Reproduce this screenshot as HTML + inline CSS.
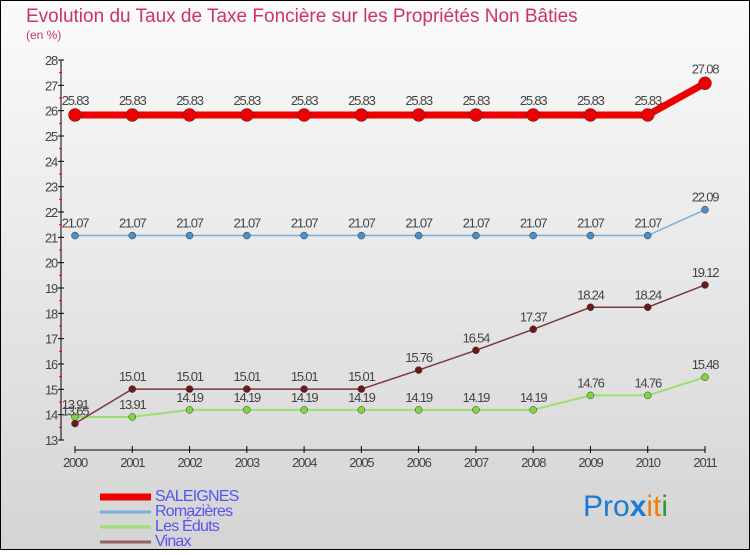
<!DOCTYPE html>
<html><head><meta charset="utf-8"><style>
body{margin:0}
#c{width:750px;height:550px;position:relative;font-family:"Liberation Sans",sans-serif}
</style></head><body>
<div id="c">
<svg id="s" width="750" height="550" xmlns="http://www.w3.org/2000/svg">
<defs><linearGradient id="bg" x1="0" y1="0" x2="0" y2="1"><stop offset="0" stop-color="#fbfbfb"/><stop offset="1" stop-color="#d4d4d4"/></linearGradient></defs>
<rect x="0.5" y="0.5" width="749" height="549" fill="url(#bg)" stroke="#000"/>
<text x="26" y="22" font-size="19" fill="#cc3366">Evolution du Taux de Taxe Foncière sur les Propriétés Non Bâties</text>
<text x="26" y="39" font-size="12" fill="#cc3366">(en %)</text>
<g id="axes"></g><g id="series"></g><g id="legend"></g>
<text x="583" y="516" font-size="30" fill="#1a7ad4">Pro<tspan fill="#1a7ad4" font-weight="bold">x</tspan><tspan fill="#f07d10">it</tspan><tspan fill="#2a9a3a">i</tspan></text>
</svg>
</div>
<script>
const years=[2000,2001,2002,2003,2004,2005,2006,2007,2008,2009,2010,2011];
const yTicks=[13,14,15,16,17,18,19,20,21,22,23,24,25,26,27,28];
const saleignes=[25.83,25.83,25.83,25.83,25.83,25.83,25.83,25.83,25.83,25.83,25.83,27.08];
const romazieres=[21.07,21.07,21.07,21.07,21.07,21.07,21.07,21.07,21.07,21.07,21.07,22.09];
const eduts=[13.91,13.91,14.19,14.19,14.19,14.19,14.19,14.19,14.19,14.76,14.76,15.48];
const vinax=[13.65,15.01,15.01,15.01,15.01,15.01,15.76,16.54,17.37,18.24,18.24,19.12];
const names=["SALEIGNES","Romazières","Les Éduts","Vinax"];
const NS="http://www.w3.org/2000/svg";
const xs=i=>75+i*(630/(years.length-1));
const ys=v=>60+(28-v)*(380/15);
function mk(t,a,p){const e=document.createElementNS(NS,t);for(const k in a)e.setAttribute(k,a[k]);p.appendChild(e);return e;}
const ax=document.getElementById('axes');
let l=mk('line',{x1:61,y1:ys(28),x2:61,y2:ys(13),stroke:'#000'},ax);


yTicks.forEach(v=>{
 mk('line',{x1:58,x2:64,y1:ys(v),y2:ys(v),stroke:'#000'},ax);
 if(v<28) mk('line',{x1:59,x2:62,y1:ys(v+0.5),y2:ys(v+0.5),stroke:'#e00'},ax);
 const t=mk('text',{x:57,y:ys(v)+5,'font-size':13,'text-anchor':'end',fill:'#444','letter-spacing':'-1.2'},ax);
 t.textContent=v;
 
 
});
l=mk('line',{x1:xs(0),y1:450,x2:xs(years.length-1),y2:450,stroke:'#000'},ax);


years.forEach((y,i)=>{
 mk('line',{x1:xs(i),x2:xs(i),y1:446,y2:453,stroke:'#000'},ax);
 const t=mk('text',{x:xs(i),y:467,'font-size':13,'text-anchor':'middle',fill:'#444','letter-spacing':'-1.2'},ax);
 t.textContent=y;
 
 
});
const sg=document.getElementById('series');
function series(data,color,dot,w,r,name,lblOff){
 const g=mk('g',{},sg);
 
 
 mk('polyline',{points:data.map((v,i)=>xs(i)+','+ys(v)).join(' '),fill:'none',stroke:color,'stroke-width':w},g);
 data.forEach((v,i)=>{
  const c=mk('circle',{cx:xs(i),cy:ys(v),r:r,fill:dot,stroke:'#333','stroke-width':0.5},g);
  
  
  const t=mk('text',{x:xs(i),y:ys(v)-lblOff,'font-size':13,'text-anchor':'middle',fill:'#444','letter-spacing':'-1.2'},g);
  t.textContent=v.toFixed(2);
  
  
 });
}
series(romazieres,'#7aaed4','#4a8fcc',1.5,3.5,'romazieres-series',8);
series(eduts,'#99e070','#7dd840',2,3.5,'les-eduts-series',8);
series(vinax,'#7a3a3a','#6a1a1a',1.5,3.5,'vinax-series',8);
series(saleignes,'#ee0000','#ee0000',7,6.5,'saleignes-series',10);
const lg=document.getElementById('legend');
const cols=['#ee0000','#7aaed4','#99e070','#9a6060'],wid=[7,3,3,3];
names.forEach((n,i)=>{
 const y=493+i*15;
 const g=mk('g',{},lg);
 
 
 mk('line',{x1:100,x2:151,y1:y+4,y2:y+4,stroke:cols[i],'stroke-width':wid[i]},g);
 const t=mk('text',{x:155,y:y+8,'font-size':16,fill:'#5555ee','letter-spacing':'-0.8'},g);
 t.textContent=n;
});
</script>
</body></html>
